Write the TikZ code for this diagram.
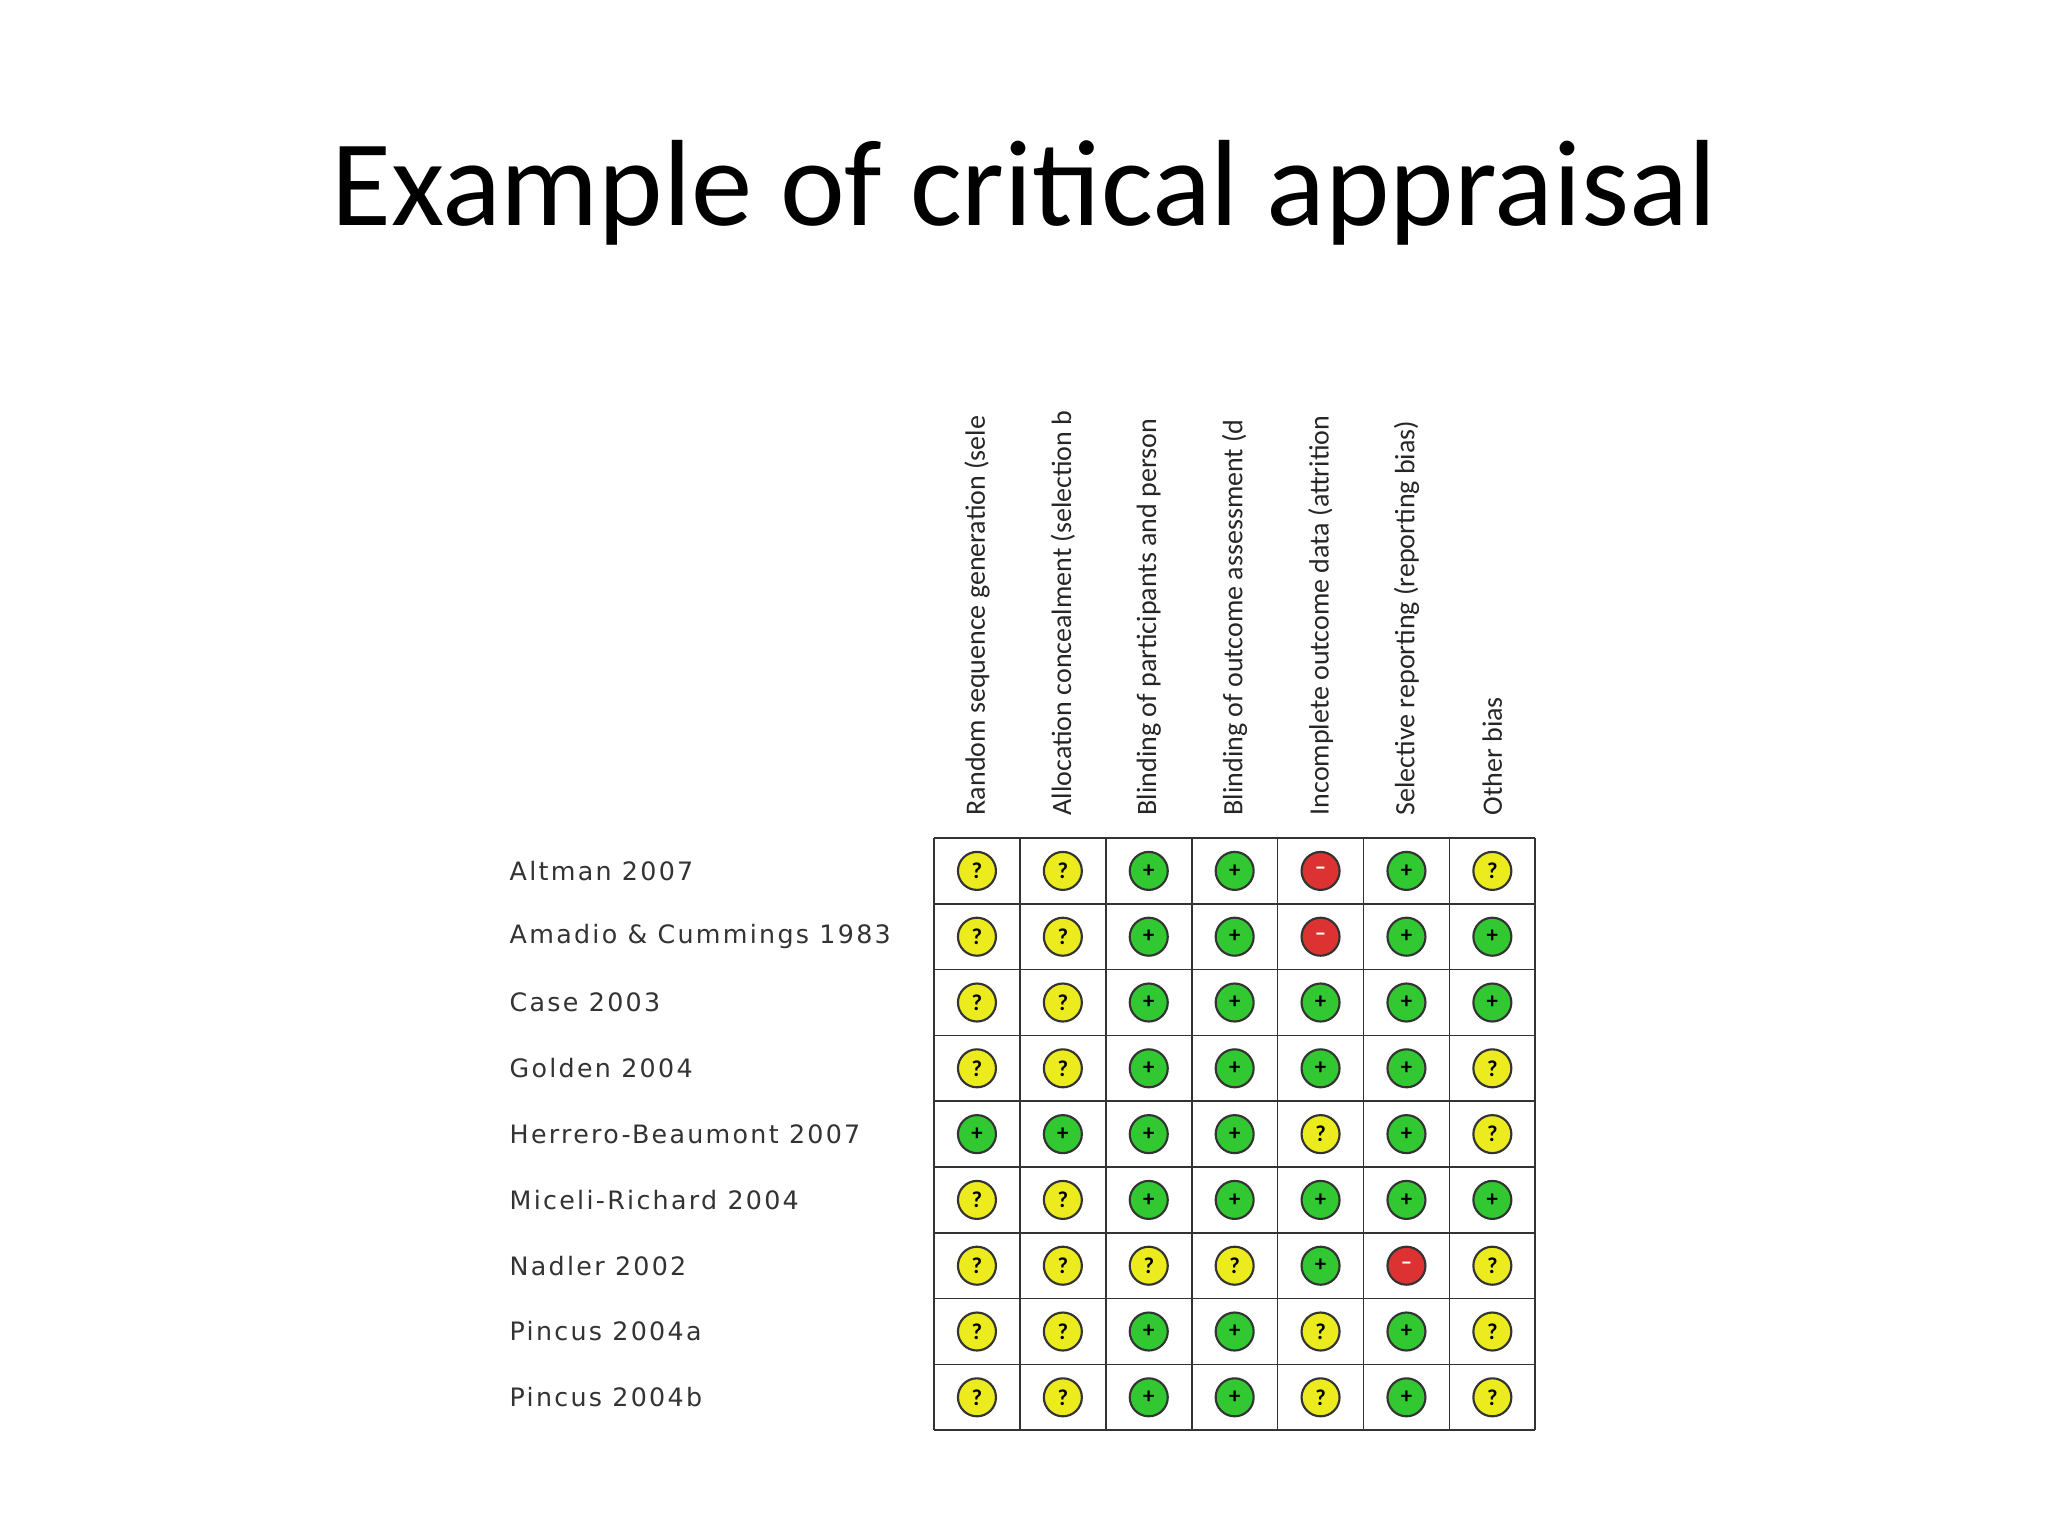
\documentclass[tikz,border=0pt]{standalone}
\usepackage{fontspec}
\setmainfont{Carlito}
\newfontfamily\rowfont[LetterSpace=9]{DejaVu Sans}
\begin{document}
\begin{tikzpicture}[x=0.75pt,y=-0.75pt,
  cell/.style={circle,draw=black!80,line width=1.6pt,minimum size=38*0.75pt,inner sep=0pt,font=\bfseries\fontsize{17}{17}\selectfont},
  unk/.style={cell,fill={rgb,255:red,235;green,235;blue,30}},
  low/.style={cell,fill={rgb,255:red,50;green,200;blue,50}},
  high/.style={cell,fill={rgb,255:red,220;green,50;blue,50}},
  rowlab/.style={anchor=west,font=\rowfont\fontsize{19}{19}\selectfont,text=black!80},
  collab/.style={rotate=90,anchor=west,font=\fontsize{21}{21}\selectfont,text=black!85}]
\useasboundingbox (0,0) rectangle (2048,1536);
\fill[white] (0,0) rectangle (2048,1536);
\node (title) at (1024,193) {\fontsize{92}{92}\selectfont Example of critical appraisal};
\def\L{934}\def\T{838}\def\W{85.9}\def\H{65.8}
\foreach \i in {0,...,7} \draw[line width=1.3pt,black!80] (\L+\i*\W,\T) -- (\L+\i*\W,\T+9*\H);
\foreach \j in {0,...,9} \draw[line width=1.3pt,black!80] (\L,\T+\j*\H) -- (\L+7*\W,\T+\j*\H);
\foreach \t [count=\i from 0] in {Random sequence generation (sele,Allocation concealment (selection b,Blinding of participants and person,Blinding of outcome assessment (d,Incomplete outcome data (attrition,Selective reporting (reporting bias),Other bias}
  \node[collab] (c\i) at (\L+\i*\W+\W/2,820) {\t};
\foreach \t [count=\j from 0] in {Altman 2007,Amadio \& Cummings 1983,Case 2003,Golden 2004,Herrero-Beaumont 2007,Miceli-Richard 2004,Nadler 2002,Pincus 2004a,Pincus 2004b}
  \node[rowlab] (r\j) at (505,\T+\j*\H+\H/2) {\t};
\foreach \row [count=\j from 0] in {
 {u,u,l,l,h,l,u},{u,u,l,l,h,l,l},{u,u,l,l,l,l,l},{u,u,l,l,l,l,u},{l,l,l,l,u,l,u},
 {u,u,l,l,l,l,l},{u,u,u,u,l,h,u},{u,u,l,l,u,l,u},{u,u,l,l,u,l,u}}{
  \foreach \v [count=\i from 0] in \row {
    \pgfmathsetmacro\cx{\L+\i*\W+\W/2}\pgfmathsetmacro\cy{\T+\j*\H+\H/2}
    \if\v u\node[unk] (m\j-\i) at (\cx,\cy) {?};\fi
    \if\v l\node[low] (m\j-\i) at (\cx,\cy) {+};\fi
    \if\v h\node[high] (m\j-\i) at (\cx,\cy) {\textcolor{white}{--}};\fi
  }}
\end{tikzpicture}
\end{document}
